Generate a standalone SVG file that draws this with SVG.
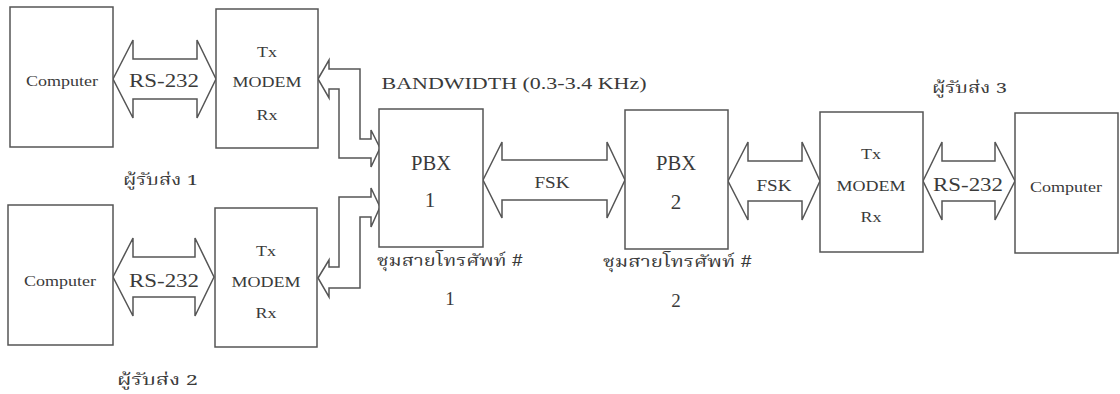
<svg xmlns="http://www.w3.org/2000/svg" width="1120" height="394" viewBox="0 0 1120 394">
<style>
.box{fill:#fff;stroke:#555;stroke-width:1.5}
.arr{fill:#fff;stroke:#555;stroke-width:1.5;stroke-linejoin:miter}
.t{font-family:"Liberation Serif","Times New Roman",serif;fill:#3a3a3a;text-anchor:middle}
.th{font-family:"Noto Serif Thai","Noto Sans Thai","Loma","Garuda","DejaVu Sans","Noto Sans",sans-serif;fill:#3a3a3a;font-weight:normal}
</style>
<rect width="1120" height="394" fill="#fff"/>
<g id="connectors">
<polygon class="arr" points="113,79 133,40 133,59 197,59 197,40 216,79 197,118 197,99 133,99 133,118"/>
<polygon class="arr" points="113,277 133,238 133,257 195,257 195,238 214,277 195,316 195,297 133,297 133,316"/>
<polygon class="arr" points="483,180 502,142 502,160 607,160 607,142 625,180 607,218 607,200 502,200 502,218"/>
<polygon class="arr" points="728,181 748,142 748,161 802,161 802,142 820,181 802,220 802,201 748,201 748,220"/>
<polygon class="arr" points="923,181 942,142 942,161 995,161 995,142 1015,181 995,220 995,201 942,201 942,220"/>
<polygon class="arr" points="318,79 329,60 329,69 360,69 360,139 371,139 371,130 380,148 371,167 371,158 339,158 339,89 329,89 329,98"/>
<polygon class="arr" points="318,278 329,260 329,267 339,267 339,197 371,197 371,188 380,207 371,227 371,217 360,217 360,288 329,288 329,297"/>
</g>
<g id="computer1"><rect class="box" x="10" y="7" width="103" height="140"/><text class="t" x="62" y="86" font-size="15" textLength="72" lengthAdjust="spacingAndGlyphs">Computer</text></g>
<g id="modem1"><rect class="box" x="216" y="9" width="102" height="139"/>
<text class="t" x="267" y="57" font-size="14" textLength="20" lengthAdjust="spacingAndGlyphs">Tx</text>
<text class="t" x="267" y="87" font-size="15" textLength="69" lengthAdjust="spacingAndGlyphs">MODEM</text>
<text class="t" x="267" y="120" font-size="14" textLength="21" lengthAdjust="spacingAndGlyphs">Rx</text></g>
<g id="computer2"><rect class="box" x="8" y="205" width="105" height="140"/><text class="t" x="60" y="286" font-size="15" textLength="72" lengthAdjust="spacingAndGlyphs">Computer</text></g>
<g id="modem2"><rect class="box" x="215" y="208" width="102" height="139"/>
<text class="t" x="266" y="256" font-size="14" textLength="20" lengthAdjust="spacingAndGlyphs">Tx</text>
<text class="t" x="266" y="287" font-size="15" textLength="69" lengthAdjust="spacingAndGlyphs">MODEM</text>
<text class="t" x="266" y="318" font-size="14" textLength="21" lengthAdjust="spacingAndGlyphs">Rx</text></g>
<g id="pbx1"><rect class="box" x="379" y="109" width="104" height="138"/>
<text class="t" x="431" y="170" font-size="20" textLength="40" lengthAdjust="spacingAndGlyphs">PBX</text>
<text class="t" x="430" y="207" font-size="21">1</text></g>
<g id="pbx2"><rect class="box" x="625" y="110" width="103" height="139"/>
<text class="t" x="676" y="170" font-size="20" textLength="40" lengthAdjust="spacingAndGlyphs">PBX</text>
<text class="t" x="676" y="209" font-size="21">2</text></g>
<g id="modem3"><rect class="box" x="820" y="112" width="103" height="140"/>
<text class="t" x="871" y="159" font-size="14" textLength="20" lengthAdjust="spacingAndGlyphs">Tx</text>
<text class="t" x="871" y="191" font-size="15" textLength="69" lengthAdjust="spacingAndGlyphs">MODEM</text>
<text class="t" x="871" y="222" font-size="14" textLength="21" lengthAdjust="spacingAndGlyphs">Rx</text></g>
<g id="computer3"><rect class="box" x="1015" y="113" width="103" height="140"/><text class="t" x="1066" y="192" font-size="15" textLength="72" lengthAdjust="spacingAndGlyphs">Computer</text></g>
<g id="labels">
<text class="t" x="164" y="87" font-size="18" textLength="70" lengthAdjust="spacingAndGlyphs">RS-232</text>
<text class="t" x="164" y="287" font-size="18" textLength="70" lengthAdjust="spacingAndGlyphs">RS-232</text>
<text class="t" x="968" y="191" font-size="18" textLength="70" lengthAdjust="spacingAndGlyphs">RS-232</text>
<text class="t" x="552" y="188" font-size="16" textLength="35" lengthAdjust="spacingAndGlyphs">FSK</text>
<text class="t" x="774" y="191" font-size="16" textLength="35" lengthAdjust="spacingAndGlyphs">FSK</text>
<text class="t" x="514" y="89" font-size="17" textLength="265" lengthAdjust="spacingAndGlyphs">BANDWIDTH (0.3-3.4 KHz)</text>
<text class="th" x="123" y="185" font-size="15" textLength="75" lengthAdjust="spacingAndGlyphs">ผู้รับส่ง 1</text>
<text class="th" x="117" y="385" font-size="15" textLength="81" lengthAdjust="spacingAndGlyphs">ผู้รับส่ง 2</text>
<text class="th" x="932" y="93" font-size="15" textLength="75" lengthAdjust="spacingAndGlyphs">ผู้รับส่ง 3</text>
<text class="th" x="377" y="266" font-size="16" textLength="146" lengthAdjust="spacingAndGlyphs">ชุมสายโทรศัพท์ #</text>
<text class="th" x="603" y="267" font-size="16" textLength="149" lengthAdjust="spacingAndGlyphs">ชุมสายโทรศัพท์ #</text>
<text class="t" x="450" y="305" font-size="19">1</text>
<text class="t" x="676" y="307" font-size="19">2</text>
</g>
</svg>
